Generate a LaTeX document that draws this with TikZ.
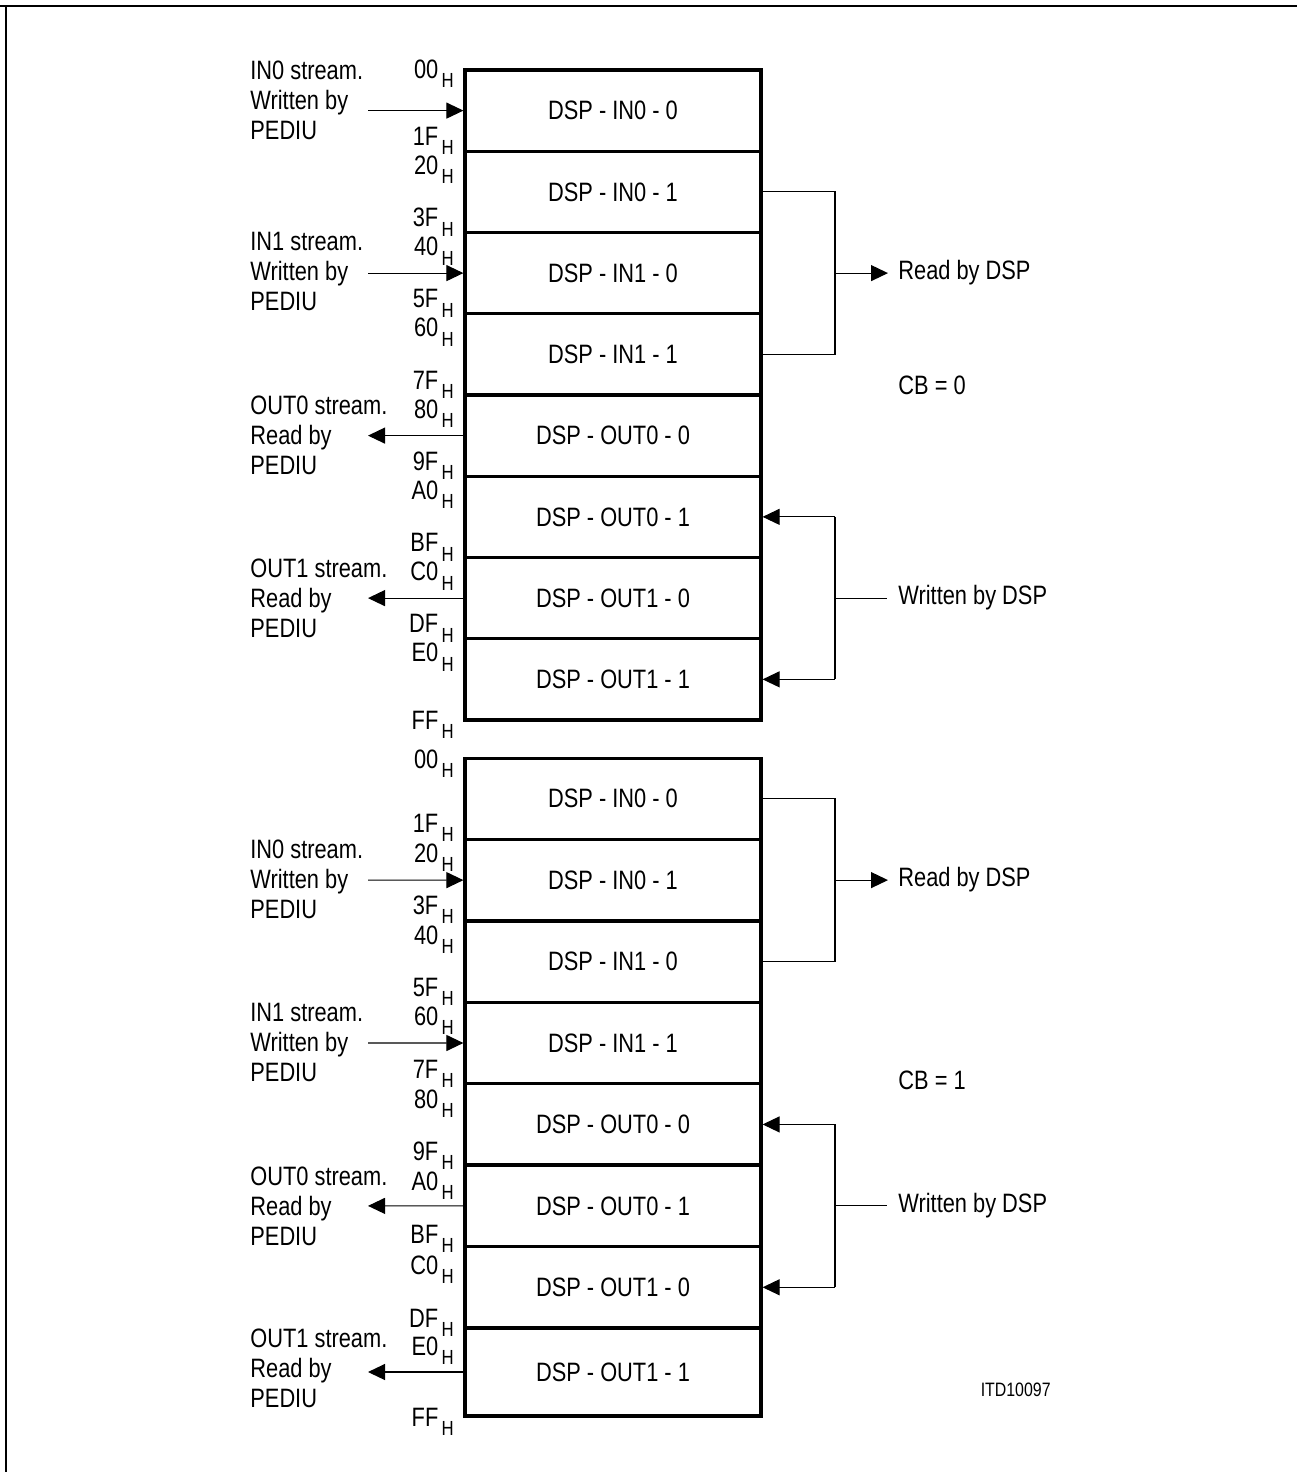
\documentclass[tikz,border=0pt]{standalone}
\usepackage{fontspec}
\setmainfont[FakeStretch=0.82]{Liberation Sans}
\usetikzlibrary{arrows.meta}
\newcommand{\hexaddr}[1]{#1\hspace{1.6pt}\raisebox{-4.8pt}{\fontsize{10.2}{10.2}\selectfont H}}
\begin{document}
\begin{tikzpicture}[x=0.5pt,y=-0.5pt,
  every node/.style={font=\fontsize{13.3}{15}\selectfont},
  cell/.style={draw, line width=1.6pt, minimum width=148pt, minimum height=40.6pt, inner sep=0pt},
  lastcell/.style={cell, minimum height=44pt},
  conn/.style={line width=0.55pt},
  tip/.style={-{Triangle[length=8.5pt,width=8pt]}},
  addr/.style={anchor=base east, inner sep=0pt},
  side/.style={anchor=west, align=left, inner sep=0pt},
  lbl/.style={anchor=west, inner sep=0pt},
  frame/.style={line width=1.1pt}]
\useasboundingbox (0,0) rectangle (1297,1472);
\draw[frame] (0,5.7) -- (1297,5.7);
\draw[frame] (5.7,5.7) -- (5.7,1472);

% ---------- box 1 (CB = 0)
\foreach \i/\t in {0/IN0 - 0,1/IN0 - 1,2/IN1 - 0,3/IN1 - 1,4/OUT0 - 0,5/OUT0 - 1,6/OUT1 - 0,7/OUT1 - 1}
  \node[cell] (a\i) at (613,{110.6+81.25*\i}) {DSP - \t};

\foreach \v/\y in {00/78,1F/145.25,20/174.25,3F/226.5,40/255.5,5F/307.75,60/336.75,7F/389,80/418,9F/470.25,A0/499.25,BF/551.5,C0/580.5,DF/632.75,E0/661.75,FF/729}
  \node[addr] (aa\v) at (454,\y) {\hexaddr{\v}};

\node[side] (ain0) at (250,100) {IN0 stream.\\Written by\\PEDIU};
\coordinate (ain0s) at (368,110.6);
\draw[conn,tip] (ain0s) -- (a0.west);
\node[side] (ain1) at (250,271) {IN1 stream.\\Written by\\PEDIU};
\coordinate (ain1s) at (368,273.1);
\draw[conn,tip] (ain1s) -- (a2.west);
\node[side] (aout0) at (250,435) {OUT0 stream.\\Read by\\PEDIU};
\coordinate (aout0e) at (368,435.6);
\draw[conn,tip] (a4.west) -- (aout0e);
\node[side] (aout1) at (250,598) {OUT1 stream.\\Read by\\PEDIU};
\coordinate (aout1e) at (368,598.1);
\draw[conn,tip] (a6.west) -- (aout1e);

\coordinate (arb) at (835,273.1);
\draw[conn] (a1.east) -- (a1.east -| arb) -- (a3.east -| arb) -- (a3.east);
\node[lbl] (ard) at (898,273.1) {Read by DSP};
\draw[conn,tip,shorten >=5pt] (arb) -- (ard.west);

\coordinate (awb) at (835,598.1);
\draw[conn] (a5.east -| awb) -- (a7.east -| awb);
\draw[conn,tip] (a5.east -| awb) -- (a5.east);
\draw[conn,tip] (a7.east -| awb) -- (a7.east);
\node[lbl] (awr) at (898,598.1) {Written by DSP};
\draw[conn,shorten >=5.5pt] (awb) -- (awr.west);

\node[lbl] (cb0) at (898,385) {CB = 0};

% ---------- box 2 (CB = 1)
\foreach \i/\t in {0/IN0 - 0,1/IN0 - 1,2/IN1 - 0,3/IN1 - 1,4/OUT0 - 0,5/OUT0 - 1,6/OUT1 - 0}
  \node[cell] (b\i) at (613,{798.7+81.43*\i}) {DSP - \t};
\node[lastcell] (b7) at (613,1372) {DSP - OUT1 - 1};

\foreach \v/\y in {00/768,1F/832,20/862,3F/914,40/944,5F/996,60/1025,7F/1078,80/1108,9F/1160,A0/1190,BF/1243,C0/1274,DF/1327,E0/1355,FF/1426}
  \node[addr] (bb\v) at (454,\y) {\hexaddr{\v}};

\node[side] (bin0) at (250,879) {IN0 stream.\\Written by\\PEDIU};
\coordinate (bin0s) at (368,880.1);
\draw[conn,tip] (bin0s) -- (b1.west);
\node[side] (bin1) at (250,1042) {IN1 stream.\\Written by\\PEDIU};
\coordinate (bin1s) at (368,1043);
\draw[conn,tip] (bin1s) -- (b3.west);
\node[side] (bout0) at (250,1206) {OUT0 stream.\\Read by\\PEDIU};
\coordinate (bout0e) at (368,1205.9);
\draw[conn,tip] (b5.west) -- (bout0e);
\node[side] (bout1) at (250,1368) {OUT1 stream.\\Read by\\PEDIU};
\coordinate (bout1e) at (368,1372);
\draw[conn,tip] (b7.west) -- (bout1e);

\coordinate (brb) at (835,880.1);
\draw[conn] (b0.east) -- (b0.east -| brb) -- (b2.east -| brb) -- (b2.east);
\node[lbl] (brd) at (898,880.1) {Read by DSP};
\draw[conn,tip,shorten >=5pt] (brb) -- (brd.west);

\coordinate (bwb) at (835,1205.9);
\draw[conn] (b4.east -| bwb) -- (b6.east -| bwb);
\draw[conn,tip] (b4.east -| bwb) -- (b4.east);
\draw[conn,tip] (b6.east -| bwb) -- (b6.east);
\node[lbl] (bwr) at (898,1205.9) {Written by DSP};
\draw[conn,shorten >=5.5pt] (bwb) -- (bwr.west);

\node[lbl] (cb1) at (898,1080) {CB = 1};

\node[anchor=east, inner sep=0pt, font=\fontsize{9.7}{11}\selectfont] (itd) at (1051,1390) {ITD10097};
\end{tikzpicture}
\end{document}
